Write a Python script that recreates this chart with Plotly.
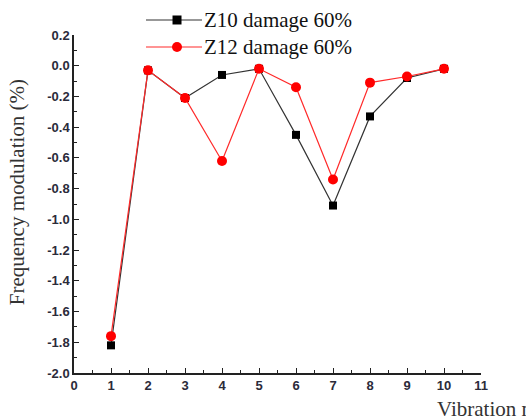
import plotly.graph_objects as go

modes = [1, 2, 3, 4, 5, 6, 7, 8, 9, 10]
z10_damage_60 = [-1.82, -0.03, -0.21, -0.06, -0.02, -0.45, -0.91, -0.33, -0.08, -0.02]
z12_damage_60 = [-1.76, -0.03, -0.21, -0.62, -0.02, -0.14, -0.74, -0.11, -0.07, -0.02]
series_names = ["Z10 damage 60%", "Z12 damage 60%"]
x_ticks = list(range(0, 12))
y_ticks = [round(-2.0 + 0.2 * i, 1) for i in range(12)]

tick_font = dict(family="Liberation Sans, Arial", size=13, color="#2b2b3a", weight="bold")
serif = "Liberation Serif, Times New Roman"
black_line, red_line = "#333333", "#ff2a2a"

fig = go.Figure()
fig.add_trace(go.Scatter(
    x=modes, y=z10_damage_60, mode="lines+markers", name=series_names[0],
    line=dict(color=black_line, width=1.2),
    marker=dict(symbol="square", size=8, color="black"),
))
fig.add_trace(go.Scatter(
    x=modes, y=z12_damage_60, mode="lines+markers", name=series_names[1],
    line=dict(color=red_line, width=1.2),
    marker=dict(symbol="circle", size=10, color="red"),
))

axis_common = dict(
    showline=True, linecolor="#222", linewidth=1.5, mirror=False,
    ticks="inside", ticklen=5, tickwidth=1.2, tickcolor="#222",
    showgrid=False, zeroline=False, tickfont=tick_font,
    minor=dict(ticks="inside", ticklen=3, tickwidth=1, tickcolor="#222"),
)

fig.update_xaxes(range=[0, 11], tickvals=x_ticks, ticktext=[str(v) for v in x_ticks],
                 minor_dtick=0.5, **axis_common)
fig.update_yaxes(range=[-2.0, 0.2], tickvals=y_ticks,
                 ticktext=[f"{v:.1f}" for v in y_ticks],
                 minor_dtick=0.1, **axis_common)

# axis titles
fig.add_annotation(text="Frequency modulation (%)", textangle=-90,
                   xref="paper", yref="paper", x=-0.14, y=0.535,
                   xanchor="center", yanchor="middle", showarrow=False,
                   font=dict(family=serif, size=21, color="#333"))
fig.add_annotation(text="Vibration mode", xref="paper", yref="paper",
                   x=0.887, y=-0.1065, xanchor="left", yanchor="middle",
                   showarrow=False, font=dict(family=serif, size=21, color="#333"))

# legend drawn above the plot area (paper coordinates)
legend_rows = [
    (1.0444, black_line, "square", "black", series_names[0]),
    (0.9645, red_line, "circle", "red", series_names[1]),
]
x0, x1, xm, xt = 0.1769, 0.3145, 0.2531, 0.315
for yy, lc, sym, mc, name in legend_rows:
    fig.add_shape(type="line", xref="paper", yref="paper", x0=x0, x1=x1, y0=yy, y1=yy,
                  line=dict(color=lc, width=1.2))
    if sym == "square":
        dx, dy = 4.5 / 407, 4.5 / 338
        fig.add_shape(type="rect", xref="paper", yref="paper",
                      x0=xm - dx, x1=xm + dx, y0=yy - dy, y1=yy + dy,
                      fillcolor=mc, line=dict(width=0))
    else:
        dx, dy = 5 / 407, 5 / 338
        fig.add_shape(type="circle", xref="paper", yref="paper",
                      x0=xm - dx, x1=xm + dx, y0=yy - dy, y1=yy + dy,
                      fillcolor=mc, line=dict(width=0))
    fig.add_annotation(text=name, xref="paper", yref="paper", x=xt, y=yy,
                       xanchor="left", yanchor="middle", showarrow=False,
                       font=dict(family=serif, size=21, color="#111"))

fig.update_layout(
    width=526, height=419,
    margin=dict(l=74, r=45, t=35, b=46, autoexpand=False),
    plot_bgcolor="white", paper_bgcolor="white",
    showlegend=False,
)

fig.write_html("out.html")
